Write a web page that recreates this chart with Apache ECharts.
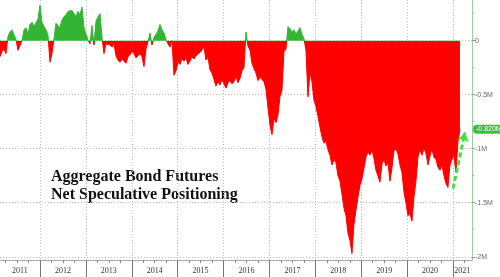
<!DOCTYPE html>
<html><head><meta charset="utf-8">
<script src="https://cdn.jsdelivr.net/npm/echarts@6/dist/echarts.min.js"></script>
<style>html,body{margin:0;padding:0;background:#fff}#c{width:500px;height:277px}</style>
</head><body><div id="c"></div>
<script>
// Net speculative positioning, millions of contracts, roughly every ~16 days
const startYear = 2011.128;
const stepYears = 0.04358;
const positioning = [
 -0.15,-0.10,-0.08,-0.12, 0.04, 0.08, 0.10, 0.11, 0.01,-0.09,
 -0.10, 0.00, 0.10, 0.12, 0.06, 0.15, 0.17, 0.13, 0.14, 0.20,
  0.33, 0.17, 0.13, 0.10, 0.05,-0.20,-0.12, 0.02, 0.16, 0.14,
  0.12, 0.19, 0.22, 0.24, 0.27, 0.26, 0.28, 0.25, 0.22, 0.27,
  0.24, 0.31, 0.12, 0.06, 0.01,-0.03, 0.14,-0.04, 0.18, 0.22,
  0.25, 0.03,-0.12,-0.03,-0.02,-0.04,-0.06,-0.03,-0.14,-0.18,
 -0.20,-0.17,-0.19,-0.21,-0.15,-0.13,-0.10,-0.12,-0.16,-0.14,
 -0.12,-0.15,-0.24,-0.08,-0.01, 0.07,-0.04, 0.03, 0.06, 0.09,
  0.15, 0.10, 0.07, 0.01,-0.03,-0.06, 0.00,-0.32,-0.28,-0.20,
 -0.22,-0.17,-0.19,-0.16,-0.22,-0.19,-0.15,-0.17,-0.14,-0.13,
 -0.11,-0.10,-0.06,-0.18,-0.15,-0.27,-0.30,-0.36,-0.42,-0.38,
 -0.41,-0.36,-0.40,-0.44,-0.39,-0.37,-0.40,-0.38,-0.33,-0.39,
 -0.35,-0.28,-0.25, 0.08,-0.05,-0.09,-0.21,-0.26,-0.30,-0.37,
 -0.34,-0.36,-0.38,-0.45,-0.62,-0.78,-0.87,-0.72,-0.76,-0.69,
 -0.52,-0.46,-0.10,-0.08, 0.13, 0.11, 0.08, 0.10, 0.06, 0.09,
  0.12, 0.06, 0.02,-0.09,-0.52,-0.30,-0.38,-0.55,-0.61,-0.70,
 -0.80,-0.89,-0.95,-0.93,-1.01,-1.06,-1.15,-1.10,-1.13,-1.25,
 -1.30,-1.42,-1.55,-1.62,-1.78,-1.85,-1.97,-1.70,-1.57,-1.45,
 -1.34,-1.28,-1.18,-1.08,-1.03,-1.06,-1.01,-1.09,-1.20,-1.25,
 -1.31,-1.14,-1.10,-1.16,-1.13,-1.30,-1.18,-1.02,-1.00,-1.05,
 -1.15,-1.22,-1.40,-1.50,-1.62,-1.60,-1.67,-1.45,-1.30,-1.08,
 -1.01,-1.06,-1.00,-1.04,-1.15,-1.07,-1.00,-1.08,-1.10,-1.17,
 -1.20,-1.15,-1.25,-1.32,-1.36,-1.15,-1.10,-1.06,-1.22,-0.94,
 -0.82
];
const yearLabels = ['2011','2012','2013','2014','2015','2016','2017','2018','2019','2020','2021'];
const yearLabelAt = [2011.56,2012.5,2013.5,2014.5,2015.5,2016.5,2017.5,2018.5,2019.5,2020.5,2021.2];
const yearBoundaries = [2012,2013,2014,2015,2016,2017,2018,2019,2020,2021];
const yTicks = [0,-0.5,-1,-1.5,-2];
const yMinorTicks = [0.25,-0.25,-0.75,-1.25,-1.75];
const lastValue = -0.82;
const lastValueLabel = '-0.820M';
const arrowFrom = [2021.0, -1.37];
const arrowTo = [2021.26, -0.85];
const titleLines = ['Aggregate Bond Futures','Net Speculative Positioning'];

const xMin = 2011.128, xMax = 2021.414, yMin = -2.03, yMax = 0.376;
const quarterTicks = [];
for (let y = 2011; y <= 2021; y++) for (const q of [0.25,0.5,0.75]) { const v = y + q; if (v > xMin && v < xMax) quarterTicks.push(v); }

const GREEN = '#33b533', RED = '#ff0000';
const chart = echarts.init(document.getElementById('c'), null, {renderer:'canvas'});
chart.setOption({
  animation: false,
  backgroundColor: '#fff',
  grid: {left: 0, right: 28, top: 0, bottom: 17, containLabel: false},
  xAxis: [{
    type: 'value', min: xMin, max: xMax, position: 'bottom',
    axisLine: {show: true, onZero: false, lineStyle: {color: '#aaa', width: 1}},
    axisTick: {show: true, customValues: yearBoundaries, length: 18, lineStyle: {color: '#777'}},
    axisLabel: {customValues: yearLabelAt, formatter: v => yearLabels[Math.floor(v) - 2011],
      fontFamily: 'Liberation Serif', fontSize: 8, color: '#333', margin: 7},
    splitLine: {show: true, lineStyle: {type: [1, 2], color: '#bbb'}}
  }, {
    type: 'value', min: xMin, max: xMax, position: 'bottom',
    axisLine: {show: false, onZero: false},
    axisTick: {show: true, customValues: quarterTicks, length: 3, lineStyle: {color: '#888'}},
    axisLabel: {show: false}, splitLine: {show: false}
  }],
  yAxis: [{
    type: 'value', min: yMin, max: yMax, position: 'right',
    axisLine: {show: true, onZero: false, lineStyle: {color: '#9ccf9c', width: 1}},
    axisTick: {show: true, customValues: yTicks, length: 3, lineStyle: {color: '#999'}},
    axisLabel: {customValues: yTicks, formatter: v => v === 0 ? '0' : v + 'M',
      fontFamily: 'Liberation Sans', fontSize: 7, color: '#666', margin: 3},
    splitLine: {show: true, lineStyle: {type: [1, 2], color: '#bbb'}}
  }, {
    type: 'value', min: yMin, max: yMax, position: 'right',
    axisLine: {show: false, onZero: false},
    axisTick: {show: true, customValues: yMinorTicks, length: 2, lineStyle: {color: '#aaa'}},
    axisLabel: {show: false}, splitLine: {show: false}
  }],
  visualMap: {show: false, type: 'piecewise', seriesIndex: 0, dimension: 1,
    pieces: [{gt: -10, lte: 0, color: RED}, {gt: 0, lte: 10, color: GREEN}]},
  series: [{
    type: 'line', xAxisIndex: 0, yAxisIndex: 0,
    data: positioning.map((v, i) => [startYear + i * stepYears, v]),
    symbol: 'none', showSymbol: false,
    lineStyle: {width: 1},
    areaStyle: {opacity: 1},
    markLine: {
      silent: true, symbol: ['none', 'none'], animation: false,
      data: [
        {yAxis: lastValue, lineStyle: {color: 'transparent', width: 0},
         label: {show: true, position: 'end', distance: 1, formatter: lastValueLabel,
           color: '#fff', backgroundColor: '#3fbf3f', borderRadius: 4, padding: [1, 3, 1, 3],
           fontFamily: 'Liberation Sans', fontSize: 7}},
        [{coord: arrowFrom, symbol: 'none', lineStyle: {color: '#44dd44', width: 3, type: [5, 3]}, label: {show: false}},
         {coord: arrowTo, symbol: 'arrow', symbolSize: [9, 9]}]
      ]
    }
  }],
  graphic: [{
    type: 'text', left: 51, top: 168,
    style: {text: titleLines.join('\n'), font: 'bold 16px "Liberation Serif"', fill: '#111', lineHeight: 18}
  }]
});
</script></body></html>
